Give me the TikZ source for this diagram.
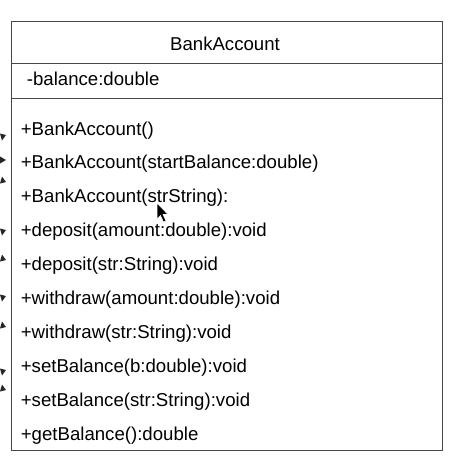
\documentclass[tikz,border=0pt]{standalone}
\usepackage{fontspec}
\setmainfont{Liberation Sans}
\usetikzlibrary{positioning}

\tikzset{
  umlline/.style={draw=black!72, line width=0.6pt},
  member/.style={anchor=base west, inner sep=0pt, font=\fontsize{10.6}{12}\selectfont},
  tipbit/.style={fill=black!85},
}

\begin{document}
\begin{tikzpicture}[x=0.02cm,y=-0.02cm]
    \useasboundingbox (0,0) rectangle (456,464);

    % class box and compartments
    \coordinate (nw) at (11.5,21.5);
    \coordinate (se) at (442.5,450.5);
    \draw[umlline] (nw) rectangle (se);
    \draw[umlline] (11.5,63.5) -- (442.5,63.5);
    \draw[umlline] (11.5,98.5) -- (442.5,98.5);

    \node[member, anchor=base] (title) at (225,50) {BankAccount};
    \node[member] (balance) at (26.5,85) {-balance:double};

    % operations
    \foreach \m [count=\i from 0] in {+BankAccount(),
        +BankAccount(startBalance:double),
        +BankAccount(strString):,
        +deposit(amount:double):void,
        +deposit(str:String):void,
        +withdraw(amount:double):void,
        +withdraw(str:String):void,
        +setBalance(b:double):void,
        +setBalance(str:String):void,
        +getBalance():double}
        \node[member] (op\i) at (20.5,{135+33.9*\i}) {\m};

    % cut-off arrow tips at the left edge
    \foreach \y in {137,232,298,372}
        \fill[tipbit] (0,\y-3.5) -- (6,\y-2) -- (2,\y+3.5) -- cycle;
    \foreach \y in {160}
        \fill[tipbit] (0,\y-3.5) -- (6,\y) -- (0,\y+3.5) -- cycle;
    \foreach \y in {180,258,325,388}
        \fill[tipbit] (0,\y+3.5) -- (6,\y+2) -- (2,\y-3.5) -- cycle;

    % mouse pointer
    \filldraw[fill=black, draw=white, line width=0.3pt]
        (157,203) -- (157,219) -- (160.5,215.5) -- (163.5,222) -- (166,221)
        -- (163,214.5) -- (168,214.5) -- cycle;
\end{tikzpicture}
\end{document}
